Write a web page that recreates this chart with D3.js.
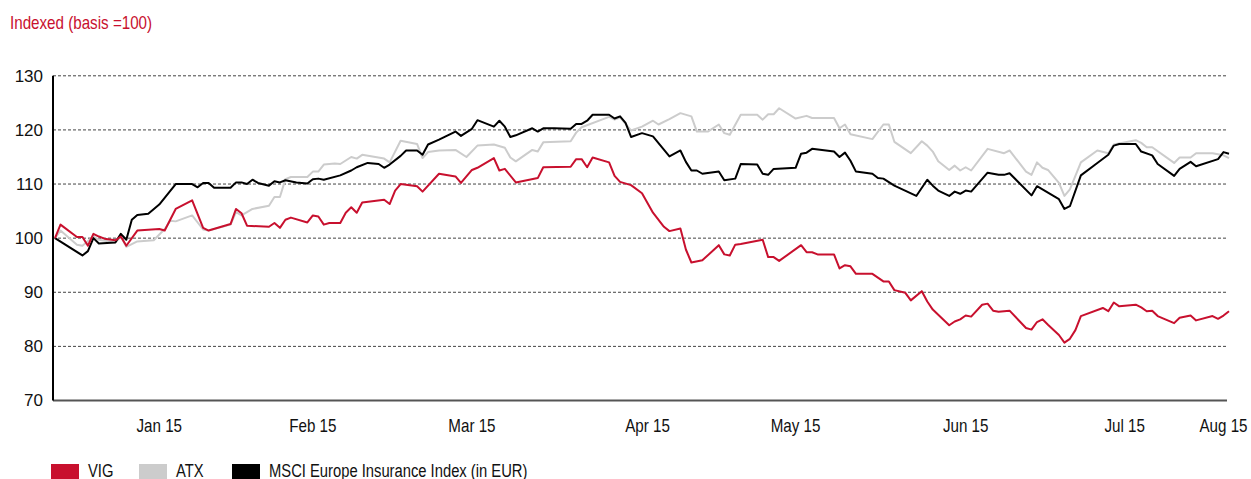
<!DOCTYPE html>
<html>
<head>
<meta charset="utf-8">
<script src="https://cdn.jsdelivr.net/npm/d3@7"></script>
<style>
body{margin:0;background:#fff;}
</style>
</head>
<body>
<script>
const svg_width = 1251, svg_height = 479;

// series data: [day index, indexed value]
var vig = [[0,100],[1,102.5],[4,100.2],[5,100.2],[6,98.6],[7,100.8],[8,100.3],[9,99.9],[11,99.6],[12,100.3],[13,98.6],
[15,101.4],[19,101.7],[20,101.4],[22,105.4],[25,107.0],[27,101.9],[28,101.4],[32,102.6],[33,105.4],[34,104.6],[35,102.3],
[39,102.1],[40,102.8],[41,101.9],[42,103.4],[43,103.8],[46,102.9],[47,104.2],[48,104.0],[49,102.5],[50,102.8],[52,102.8],
[53,104.7],[54,105.7],[55,104.7],[56,106.6],[60,107.1],[61,106.3],[62,108.8],[63,110.0],[66,109.6],[67,108.6],[70,111.9],
[73,111.4],[74,110.2],[76,112.6],[77,113.0],[80,114.8],[81,112.5],[82,112.8],[84,110.3],[88,111.1],[89,113.1],[94,113.2],
[95,114.6],[96,114.6],[97,113.1],[98,114.9],[101,114.0],[102,111.5],[103,110.4],[105,109.8],[107,108.3],[109,104.7],
[111,102.1],[112,101.3],[114,101.8],[115,97.9],[116,95.5],[118,95.9],[121,98.7],[122,97.0],[123,96.8],[124,98.8],[125,98.9],
[129,99.7],[130,96.5],[131,96.5],[132,95.8],[136,98.7],[137,97.4],[138,97.4],[139,97.0],[142,97.0],[143,94.4],[144,95.0],
[145,94.8],[146,93.4],[149,93.4],[151,92.0],[152,92.0],[153,90.4],[155,89.9],[156,88.5],[158,90.2],[159,88.3],[160,86.8],
[163,83.9],[164,84.6],[165,85.0],[166,85.7],[167,85.5],[169,87.7],[170,87.9],[171,86.6],[172,86.4],[174,86.6],[177,83.4],
[178,83.1],[179,84.5],[180,85.0],[181,84.0],[183,82.1],[184,80.7],[185,81.4],[186,83.0],[187,85.6],[191,87.1],[192,86.5],
[193,88.1],[194,87.4],[197,87.7],[198,87.2],[199,86.5],[200,86.6],[201,85.6],[204,84.3],[205,85.3],[207,85.7],[208,84.8],
[211,85.6],[212,85.1],[213,85.7],[214,86.5]];

var atx = [[0,100],[1,101.4],[4,98.8],[5,98.6],[7,100.3],[8,99.7],[11,99.2],[12,100.3],[13,98.4],[15,99.4],[18,99.6],
[20,101.7],[21,103.2],[22,103.1],[25,104.2],[27,101.6],[28,101.4],[32,102.5],[33,104.8],[34,104.2],[36,105.4],[39,106.0],
[40,107.6],[41,107.6],[42,110.9],[43,111.3],[46,111.3],[47,112.3],[48,112.3],[49,113.6],[51,113.8],[52,113.7],[54,115.0],
[55,114.7],[56,115.4],[60,114.7],[61,114.0],[63,118.0],[66,117.4],[67,114.8],[68,115.9],[70,116.2],[73,116.3],[75,115.0],
[77,117.1],[80,117.3],[82,116.7],[83,114.9],[84,114.2],[87,116.3],[88,116.0],[89,117.7],[94,117.9],[95,119.5],[96,120.5],
[101,122.4],[102,121.9],[103,122.3],[105,119.9],[107,120.6],[109,121.7],[110,121.0],[112,122.0],[114,123.1],[116,122.5],
[117,119.7],[119,119.7],[121,121.0],[122,119.4],[123,119.1],[125,122.8],[128,122.8],[129,121.9],[130,122.9],[131,122.9],
[132,124.0],[135,122.1],[137,122.6],[138,122.2],[142,122.2],[143,120.3],[144,121.0],[145,119.2],[149,118.3],[151,121.0],
[152,121.0],[153,117.8],[156,115.7],[158,117.9],[159,117.1],[160,116.0],[161,114.2],[163,112.6],[164,113.4],[165,112.5],
[166,113.1],[167,112.5],[170,116.5],[173,115.7],[174,116.2],[177,112.3],[178,111.7],[179,114.0],[180,113.0],[181,112.6],
[183,110.2],[184,107.8],[185,109.0],[187,114.0],[190,116.2],[192,115.7],[193,117.3],[197,118.1],[198,117.6],[199,116.8],
[200,116.8],[204,113.9],[205,114.9],[207,114.9],[208,115.7],[211,115.7],[213,115.3],[214,114.8]];

var msci = [[0,100],[5,96.8],[6,97.6],[7,100.0],[8,99.0],[11,99.2],[12,100.8],[13,99.7],[14,103.4],[15,104.3],[17,104.5],
[19,106.2],[22,110.0],[25,110.0],[26,109.4],[27,110.2],[28,110.2],[29,109.3],[32,109.3],[33,110.3],[34,110.3],[35,110.0],
[36,110.8],[37,110.2],[39,109.7],[40,110.5],[41,110.3],[42,110.7],[44,110.3],[46,110.1],[47,110.9],[48,111.0],[49,110.8],
[52,111.6],[54,112.5],[55,113.1],[57,113.9],[59,113.7],[60,113.0],[61,113.6],[63,115.2],[64,116.2],[66,116.2],[67,115.4],
[68,117.3],[70,118.2],[73,119.7],[74,118.9],[76,120.2],[77,121.8],[80,120.6],[81,121.7],[82,120.6],[83,118.7],[84,119.0],
[87,120.3],[88,119.7],[89,120.3],[91,120.3],[94,120.2],[95,121.1],[96,121.1],[97,121.7],[98,122.8],[101,122.8],[102,122.1],
[103,122.5],[104,121.3],[105,118.7],[107,119.4],[109,118.8],[112,115.1],[114,116.2],[115,114.1],[116,112.5],[117,112.5],
[118,111.9],[121,112.3],[122,110.7],[124,111.0],[125,113.7],[128,113.6],[129,111.9],[130,111.7],[131,112.8],[135,113.0],
[136,115.6],[137,115.8],[138,116.5],[142,116.0],[143,115.0],[144,115.8],[145,114.3],[146,112.3],[149,111.9],[150,111.1],
[151,111.0],[153,109.7],[157,107.8],[159,110.8],[160,109.7],[161,108.8],[163,107.8],[164,108.6],[165,108.2],[166,108.8],
[167,108.6],[170,112.1],[172,111.7],[173,111.7],[174,112.0],[178,107.9],[179,109.6],[180,109.0],[183,107.2],[184,105.4],
[185,105.9],[187,111.6],[190,113.9],[192,115.4],[193,117.1],[194,117.4],[197,117.4],[198,116.0],[200,115.3],[201,113.7],
[204,111.5],[205,112.8],[207,114.1],[208,113.3],[212,114.6],[213,115.9],[214,115.6]];

var yTicks = [70, 80, 90, 100, 110, 120, 130];
var monthLabels = ["Jan 15","Feb 15","Mar 15","Apr 15","May 15","Jun 15","Jul 15","Aug 15"];
var monthDays = [19, 47, 76, 108, 135, 166, 195, 213];
var legendNames = ["VIG","ATX","MSCI Europe Insurance Index (in EUR)"];
var colors = ["#c8102e","#cccccc","#000000"];

var svgContainer = d3.select("body")
.append("svg")
.attr("width",svg_width)
.attr("height",svg_height)
.style("font-family","'Liberation Sans',Arial,sans-serif");

var x = d3.scaleLinear().domain([0,214]).range([55,1229]);
var y = d3.scaleLinear().domain([70,130]).range([400.5,75.8]);

// squeeze text horizontally (condensed look, no narrow font installed)
function narrow(sel){
	sel.each(function(){
		var len = this.getComputedTextLength();
		d3.select(this).attr("textLength",len*0.82).attr("lengthAdjust","spacingAndGlyphs");
	});
}

// title
svgContainer.append("text")
.attr("x",10)
.attr("y",29)
.attr("fill","#c8102e")
.style("font-size","18.5px")
.text("Indexed (basis =100)")
.call(narrow);

// dashed gridlines
var gridGroup = svgContainer.append("g");
gridGroup.selectAll("line")
.data(yTicks.filter(function(d){return d > 70;}))
.enter()
.append("line")
.attr("x1",53)
.attr("x2",1227)
.attr("y1",function(d){return y(d)})
.attr("y2",function(d){return y(d)})
.attr("stroke","#444")
.attr("stroke-width",1)
.attr("stroke-dasharray","3,2");

// y axis labels
svgContainer.append("g").selectAll("text")
.data(yTicks)
.enter()
.append("text")
.attr("x",43)
.attr("y",function(d){return y(d)})
.attr("dy","0.35em")
.attr("text-anchor","end")
.style("font-size","17px")
.attr("fill","#111")
.text(function(d){return d});

// lines
var svgLineFunction = d3.line()
.x(function(d){return x(d[0])})
.y(function(d){return y(d[1])});

var seriesList = [atx, msci, vig];
var seriesColors = [colors[1], colors[2], colors[0]];
for(var i in seriesList){
	svgContainer.append("path")
	.attr("d",svgLineFunction(seriesList[i]))
	.attr("stroke",seriesColors[i])
	.attr("stroke-width",2)
	.attr("stroke-linejoin","round")
	.attr("fill","none");
}

// axes lines
svgContainer.append("line")
.attr("x1",53).attr("x2",1227)
.attr("y1",y(70)).attr("y2",y(70))
.attr("stroke","#555")
.attr("stroke-width",2);
svgContainer.append("line")
.attr("x1",53).attr("x2",53)
.attr("y1",y(130)).attr("y2",y(70))
.attr("stroke","#000")
.attr("stroke-width",2);

// month labels
svgContainer.append("g").selectAll("text")
.data(monthDays)
.enter()
.append("text")
.attr("x",function(d){return x(d)})
.attr("y",432)
.attr("text-anchor","middle")
.style("font-size","18.5px")
.attr("fill","#111")
.text(function(d,i){return monthLabels[i]})
.call(narrow);

// legend
var legendX = [51, 139, 232];
var legendGroup = svgContainer.append("g");
for(var k in legendNames){
	legendGroup.append("rect")
	.attr("x",legendX[k])
	.attr("y",464)
	.attr("width",28)
	.attr("height",15)
	.style("fill",colors[k]);
	legendGroup.append("text")
	.attr("x",legendX[k] + 37)
	.attr("y",477)
	.style("font-size","18px")
	.attr("fill","#111")
	.text(legendNames[k])
	.call(narrow);
}
</script>
</body>
</html>
